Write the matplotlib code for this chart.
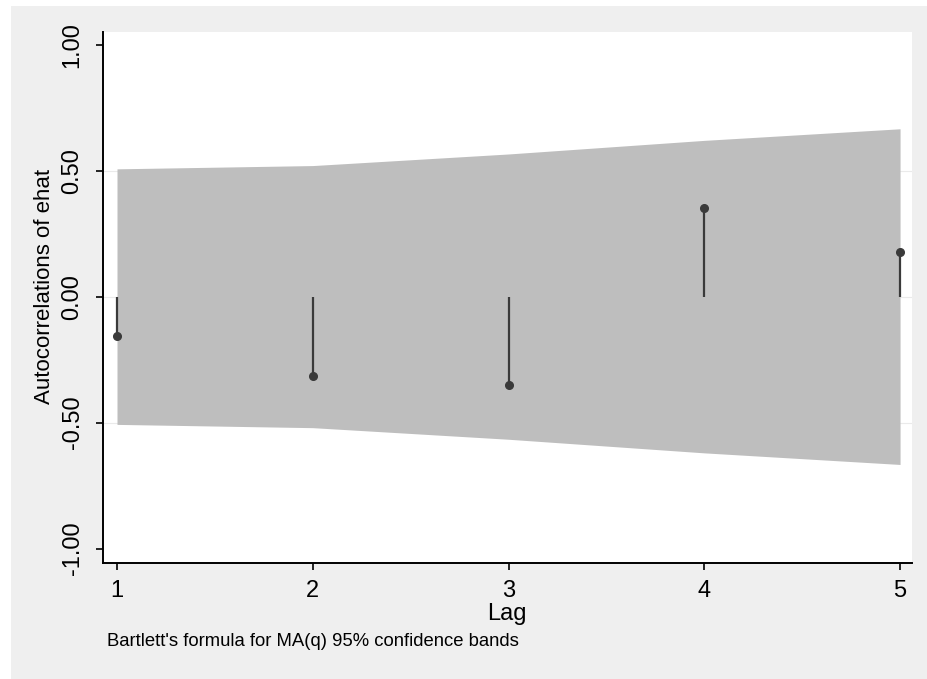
import matplotlib
matplotlib.use("Agg")
from matplotlib import pyplot as plt
from matplotlib.patches import Rectangle

# autocorrelations of ehat, lags 1..5
lags = [1, 2, 3, 4, 5]
acf = [-0.156, -0.315, -0.35, 0.352, 0.179]
# Bartlett 95% band half-width at each lag
band = [0.507, 0.52, 0.566, 0.62, 0.666]
yticks = [-1.0, -0.5, 0.0, 0.5, 1.0]
ytick_labels = ["-1.00", "-0.50", "0.00", "0.50", "1.00"]

plt.rcParams['font.family'] = ['Liberation Sans', 'DejaVu Sans']

fig = plt.figure(figsize=(9.27, 6.79), dpi=100)
fig.patch.set_facecolor('white')
# stata-style outer gray frame
fig.patches.append(Rectangle((11/927, 0), 1 - 11/927, 1 - 6/679, transform=fig.transFigure,
                             facecolor='#efefef', edgecolor='none', zorder=-10))

ax = fig.add_axes([103/927, 1 - 563/679, (912 - 103)/927, (563 - 32)/679])
ax.set_facecolor('white')

ax.fill_between(lags, [-b for b in band], band, color='#bebebe', linewidth=0, zorder=1)
for yv in [0.5, 0.0, -0.5]:
    ax.axhline(yv, color='#eaeaea', linewidth=0.8, zorder=0.5)

ax.vlines(lags, 0, acf, color='#3a3a3a', linewidth=1.6, zorder=3)
ax.plot(lags, acf, 'o', color='#3a3a3a', markersize=5.5, zorder=4)

ax.set_xlim(0.9285, 5.061)
ax.set_ylim(-1.057, 1.050)
ax.set_xticks(lags)
ax.set_yticks(yticks)
ax.set_yticklabels(ytick_labels, rotation=90, va='center')
ax.tick_params(axis='both', direction='out', length=5, width=1.2, labelsize=17, colors='black')
ax.tick_params(axis='x', pad=7)
ax.tick_params(axis='y', pad=9)
for s in ['top', 'right']:
    ax.spines[s].set_visible(False)
for s in ['left', 'bottom']:
    ax.spines[s].set_linewidth(1.4)

ax.set_ylabel("Autocorrelations of ehat", fontsize=16, va='center')
ax.yaxis.set_label_coords((45 - 103)/809, (563 - 286)/531)
ax.set_xlabel("Lag", fontsize=17, va='center')
ax.xaxis.set_label_coords((507 - 103)/809, (563 - 614)/531)
fig.text(107/927, 1 - 642/679, "Bartlett's formula for MA(q) 95% confidence bands",
         fontsize=13.3, va='center', ha='left')

plt.savefig("out.png", dpi=100)
